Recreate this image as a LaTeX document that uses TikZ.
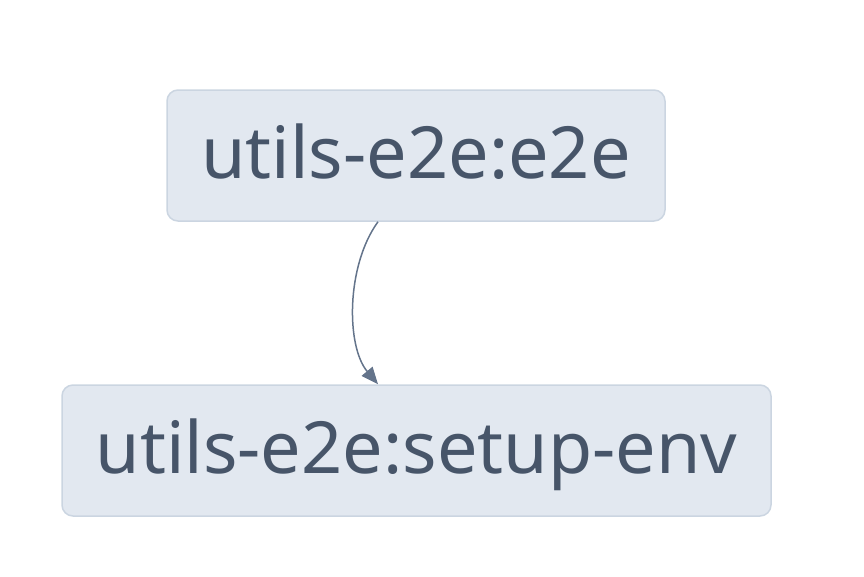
\documentclass[tikz,border=0pt]{standalone}
\usepackage{fontspec}
\setmainfont{Noto Sans}
\usetikzlibrary{arrows.meta}
\definecolor{boxfill}{HTML}{E2E8F0}
\definecolor{boxline}{HTML}{CBD5E1}
\definecolor{boxtext}{HTML}{475569}
\definecolor{edgecol}{HTML}{64748B}
\begin{document}
\begin{tikzpicture}[x=1pt,y=-1pt,
  taskbox/.style={draw=boxline, fill=boxfill, line width=1.5pt, rounded corners=11pt,
    inner sep=0pt, minimum height=131pt, text=boxtext, text height=55pt, text depth=10pt,
    font=\fontsize{72}{76}\selectfont},
  link/.style={draw=edgecol, line width=1.5pt, -{Triangle[length=17pt,width=14pt]}}]
\useasboundingbox (0,0) rectangle (864,576);
\node[taskbox, minimum width=498pt] (a) at (416,155.5) {utils-e2e:e2e};
\node[taskbox, minimum width=709pt] (b) at (416.5,450.5) {utils-e2e:setup-env};
\draw[link] ([xshift=-38pt]a.south) .. controls +(-32,44) and +(-32,-38) .. ([xshift=-38.5pt]b.north);
\end{tikzpicture}
\end{document}
